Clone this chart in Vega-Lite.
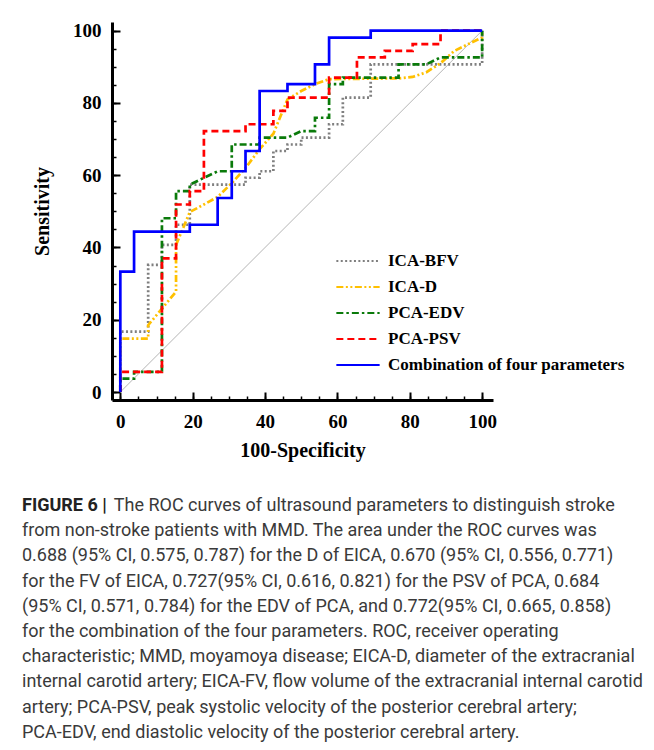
{
  "$schema": "https://vega.github.io/schema/vega-lite/v6.json",
  "width": 381,
  "height": 378,
  "autosize": {"type": "none"},
  "padding": {"left": 112, "top": 22, "right": 161, "bottom": 350},
  "background": "white",
  "config": {
    "view": {"stroke": null},
    "axis": {"grid": false}
  },
  "title": {
    "text": "FIGURE 6 |",
    "subtitle": [
      "\u200b\u2002\u2002\u2002\u2002\u2002\u2002\u2002\u2002\u2002\u2002The ROC curves of ultrasound parameters to distinguish stroke",
      "from non-stroke patients with MMD. The area under the ROC curves was",
      "0.688 (95% CI, 0.575, 0.787) for the D of EICA, 0.670 (95% CI, 0.556, 0.771)",
      "for the FV of EICA, 0.727(95% CI, 0.616, 0.821) for the PSV of PCA, 0.684",
      "(95% CI, 0.571, 0.784) for the EDV of PCA, and 0.772(95% CI, 0.665, 0.858)",
      "for the combination of the four parameters. ROC, receiver operating",
      "characteristic; MMD, moyamoya disease; EICA-D, diameter of the extracranial",
      "internal carotid artery; EICA-FV, flow volume of the extracranial internal carotid",
      "artery; PCA-PSV, peak systolic velocity of the posterior cerebral artery;",
      "PCA-EDV, end diastolic velocity of the posterior cerebral artery."
    ],
    "orient": "bottom",
    "anchor": "start",
    "frame": "group",
    "dx": -90,
    "offset": 37,
    "font": "Roboto",
    "fontSize": 18,
    "fontWeight": "bold",
    "color": "#222222",
    "subtitleFont": "Roboto",
    "subtitleFontSize": 18,
    "subtitleColor": "#3a3a3a",
    "subtitleLineHeight": 25.2,
    "subtitlePadding": -18
  },
  "datasets": {
    "diag": [{"x": 0, "y": 0}, {"x": 100, "y": 100}],
    "roc": [
      {"s": "ICA-BFV", "i": 1, "x": 0, "y": 0},
      {"s": "ICA-BFV", "i": 2, "x": 0, "y": 16.7},
      {"s": "ICA-BFV", "i": 3, "x": 7.7, "y": 16.7},
      {"s": "ICA-BFV", "i": 4, "x": 7.7, "y": 35.2},
      {"s": "ICA-BFV", "i": 5, "x": 11.5, "y": 35.2},
      {"s": "ICA-BFV", "i": 6, "x": 11.5, "y": 40.7},
      {"s": "ICA-BFV", "i": 7, "x": 15.4, "y": 40.7},
      {"s": "ICA-BFV", "i": 8, "x": 15.4, "y": 46.3},
      {"s": "ICA-BFV", "i": 9, "x": 19.2, "y": 46.3},
      {"s": "ICA-BFV", "i": 10, "x": 19.2, "y": 57.4},
      {"s": "ICA-BFV", "i": 11, "x": 34.6, "y": 57.4},
      {"s": "ICA-BFV", "i": 12, "x": 34.6, "y": 59.3},
      {"s": "ICA-BFV", "i": 13, "x": 38.5, "y": 59.3},
      {"s": "ICA-BFV", "i": 14, "x": 38.5, "y": 61.1},
      {"s": "ICA-BFV", "i": 15, "x": 42.3, "y": 61.1},
      {"s": "ICA-BFV", "i": 16, "x": 42.3, "y": 66.7},
      {"s": "ICA-BFV", "i": 17, "x": 46.2, "y": 66.7},
      {"s": "ICA-BFV", "i": 18, "x": 46.2, "y": 68.5},
      {"s": "ICA-BFV", "i": 19, "x": 50.0, "y": 68.5},
      {"s": "ICA-BFV", "i": 20, "x": 50.0, "y": 70.4},
      {"s": "ICA-BFV", "i": 21, "x": 57.7, "y": 70.4},
      {"s": "ICA-BFV", "i": 22, "x": 57.7, "y": 74.1},
      {"s": "ICA-BFV", "i": 23, "x": 61.5, "y": 74.1},
      {"s": "ICA-BFV", "i": 24, "x": 61.5, "y": 81.5},
      {"s": "ICA-BFV", "i": 25, "x": 69.2, "y": 81.5},
      {"s": "ICA-BFV", "i": 26, "x": 69.2, "y": 90.7},
      {"s": "ICA-BFV", "i": 27, "x": 100, "y": 90.7},
      {"s": "ICA-BFV", "i": 28, "x": 100, "y": 100},
      {"s": "ICA-D", "i": 1, "x": 0, "y": 0},
      {"s": "ICA-D", "i": 2, "x": 0, "y": 14.8},
      {"s": "ICA-D", "i": 3, "x": 7.7, "y": 14.8},
      {"s": "ICA-D", "i": 4, "x": 7.7, "y": 18.5},
      {"s": "ICA-D", "i": 5, "x": 15.4, "y": 27.8},
      {"s": "ICA-D", "i": 6, "x": 15.4, "y": 40.7},
      {"s": "ICA-D", "i": 7, "x": 19.2, "y": 49.8},
      {"s": "ICA-D", "i": 8, "x": 23.1, "y": 51.9},
      {"s": "ICA-D", "i": 9, "x": 26.9, "y": 54.0},
      {"s": "ICA-D", "i": 10, "x": 30.8, "y": 57.8},
      {"s": "ICA-D", "i": 11, "x": 34.6, "y": 62.0},
      {"s": "ICA-D", "i": 12, "x": 38.5, "y": 67.2},
      {"s": "ICA-D", "i": 13, "x": 42.3, "y": 71.5},
      {"s": "ICA-D", "i": 14, "x": 46.2, "y": 81.0},
      {"s": "ICA-D", "i": 15, "x": 50.0, "y": 83.3},
      {"s": "ICA-D", "i": 16, "x": 53.8, "y": 85.2},
      {"s": "ICA-D", "i": 17, "x": 57.7, "y": 86.6},
      {"s": "ICA-D", "i": 18, "x": 76.9, "y": 86.8},
      {"s": "ICA-D", "i": 19, "x": 80.8, "y": 87.2},
      {"s": "ICA-D", "i": 20, "x": 84.6, "y": 88.5},
      {"s": "ICA-D", "i": 21, "x": 88.5, "y": 91.0},
      {"s": "ICA-D", "i": 22, "x": 92.3, "y": 94.4},
      {"s": "ICA-D", "i": 23, "x": 96.2, "y": 96.3},
      {"s": "ICA-D", "i": 24, "x": 100, "y": 98.1},
      {"s": "ICA-D", "i": 25, "x": 100, "y": 100},
      {"s": "PCA-EDV", "i": 1, "x": 0, "y": 0},
      {"s": "PCA-EDV", "i": 2, "x": 0, "y": 3.7},
      {"s": "PCA-EDV", "i": 3, "x": 3.8, "y": 3.7},
      {"s": "PCA-EDV", "i": 4, "x": 3.8, "y": 5.6},
      {"s": "PCA-EDV", "i": 5, "x": 11.5, "y": 5.6},
      {"s": "PCA-EDV", "i": 6, "x": 11.5, "y": 48.1},
      {"s": "PCA-EDV", "i": 7, "x": 15.4, "y": 48.1},
      {"s": "PCA-EDV", "i": 8, "x": 15.4, "y": 55.6},
      {"s": "PCA-EDV", "i": 9, "x": 19.2, "y": 55.6},
      {"s": "PCA-EDV", "i": 10, "x": 19.2, "y": 57.4},
      {"s": "PCA-EDV", "i": 11, "x": 26.9, "y": 61.1},
      {"s": "PCA-EDV", "i": 12, "x": 30.8, "y": 61.1},
      {"s": "PCA-EDV", "i": 13, "x": 30.8, "y": 68.5},
      {"s": "PCA-EDV", "i": 14, "x": 38.5, "y": 68.5},
      {"s": "PCA-EDV", "i": 15, "x": 38.5, "y": 70.4},
      {"s": "PCA-EDV", "i": 16, "x": 46.2, "y": 70.4},
      {"s": "PCA-EDV", "i": 17, "x": 50.0, "y": 72.2},
      {"s": "PCA-EDV", "i": 18, "x": 53.8, "y": 72.2},
      {"s": "PCA-EDV", "i": 19, "x": 53.8, "y": 75.9},
      {"s": "PCA-EDV", "i": 20, "x": 57.7, "y": 75.9},
      {"s": "PCA-EDV", "i": 21, "x": 57.7, "y": 85.2},
      {"s": "PCA-EDV", "i": 22, "x": 61.5, "y": 85.2},
      {"s": "PCA-EDV", "i": 23, "x": 61.5, "y": 87.0},
      {"s": "PCA-EDV", "i": 24, "x": 76.9, "y": 87.0},
      {"s": "PCA-EDV", "i": 25, "x": 76.9, "y": 90.7},
      {"s": "PCA-EDV", "i": 26, "x": 84.6, "y": 90.7},
      {"s": "PCA-EDV", "i": 27, "x": 88.5, "y": 92.6},
      {"s": "PCA-EDV", "i": 28, "x": 100, "y": 92.6},
      {"s": "PCA-EDV", "i": 29, "x": 100, "y": 100},
      {"s": "PCA-PSV", "i": 1, "x": 0, "y": 0},
      {"s": "PCA-PSV", "i": 2, "x": 0, "y": 5.6},
      {"s": "PCA-PSV", "i": 3, "x": 11.5, "y": 5.6},
      {"s": "PCA-PSV", "i": 4, "x": 11.5, "y": 37.0},
      {"s": "PCA-PSV", "i": 5, "x": 15.4, "y": 37.0},
      {"s": "PCA-PSV", "i": 6, "x": 15.4, "y": 51.9},
      {"s": "PCA-PSV", "i": 7, "x": 19.2, "y": 51.9},
      {"s": "PCA-PSV", "i": 8, "x": 19.2, "y": 55.6},
      {"s": "PCA-PSV", "i": 9, "x": 23.1, "y": 55.6},
      {"s": "PCA-PSV", "i": 10, "x": 23.1, "y": 72.2},
      {"s": "PCA-PSV", "i": 11, "x": 34.6, "y": 72.2},
      {"s": "PCA-PSV", "i": 12, "x": 34.6, "y": 74.1},
      {"s": "PCA-PSV", "i": 13, "x": 42.3, "y": 74.1},
      {"s": "PCA-PSV", "i": 14, "x": 42.3, "y": 77.8},
      {"s": "PCA-PSV", "i": 15, "x": 46.2, "y": 77.8},
      {"s": "PCA-PSV", "i": 16, "x": 46.2, "y": 81.5},
      {"s": "PCA-PSV", "i": 17, "x": 57.7, "y": 81.5},
      {"s": "PCA-PSV", "i": 18, "x": 57.7, "y": 87.0},
      {"s": "PCA-PSV", "i": 19, "x": 65.4, "y": 87.0},
      {"s": "PCA-PSV", "i": 20, "x": 65.4, "y": 92.6},
      {"s": "PCA-PSV", "i": 21, "x": 73.1, "y": 92.6},
      {"s": "PCA-PSV", "i": 22, "x": 73.1, "y": 94.4},
      {"s": "PCA-PSV", "i": 23, "x": 80.8, "y": 94.4},
      {"s": "PCA-PSV", "i": 24, "x": 80.8, "y": 96.3},
      {"s": "PCA-PSV", "i": 25, "x": 88.5, "y": 96.3},
      {"s": "PCA-PSV", "i": 26, "x": 88.5, "y": 100},
      {"s": "PCA-PSV", "i": 27, "x": 100, "y": 100},
      {"s": "Combination of four parameters", "i": 1, "x": 0, "y": 0},
      {"s": "Combination of four parameters", "i": 2, "x": 0, "y": 33.3},
      {"s": "Combination of four parameters", "i": 3, "x": 3.8, "y": 33.3},
      {"s": "Combination of four parameters", "i": 4, "x": 3.8, "y": 44.4},
      {"s": "Combination of four parameters", "i": 5, "x": 19.2, "y": 44.4},
      {"s": "Combination of four parameters", "i": 6, "x": 19.2, "y": 46.3},
      {"s": "Combination of four parameters", "i": 7, "x": 26.9, "y": 46.3},
      {"s": "Combination of four parameters", "i": 8, "x": 26.9, "y": 53.7},
      {"s": "Combination of four parameters", "i": 9, "x": 30.8, "y": 53.7},
      {"s": "Combination of four parameters", "i": 10, "x": 30.8, "y": 61.1},
      {"s": "Combination of four parameters", "i": 11, "x": 34.6, "y": 61.1},
      {"s": "Combination of four parameters", "i": 12, "x": 34.6, "y": 66.7},
      {"s": "Combination of four parameters", "i": 13, "x": 38.5, "y": 66.7},
      {"s": "Combination of four parameters", "i": 14, "x": 38.5, "y": 83.3},
      {"s": "Combination of four parameters", "i": 15, "x": 46.2, "y": 83.3},
      {"s": "Combination of four parameters", "i": 16, "x": 46.2, "y": 85.2},
      {"s": "Combination of four parameters", "i": 17, "x": 53.8, "y": 85.2},
      {"s": "Combination of four parameters", "i": 18, "x": 53.8, "y": 90.7},
      {"s": "Combination of four parameters", "i": 19, "x": 57.7, "y": 90.7},
      {"s": "Combination of four parameters", "i": 20, "x": 57.7, "y": 98.1},
      {"s": "Combination of four parameters", "i": 21, "x": 69.2, "y": 98.1},
      {"s": "Combination of four parameters", "i": 22, "x": 69.2, "y": 100},
      {"s": "Combination of four parameters", "i": 23, "x": 100, "y": 100}
    ]
  },
  "layer": [
    {
      "data": {"name": "diag"},
      "mark": {"type": "line", "color": "#b5b5b5", "strokeWidth": 1},
      "encoding": {
        "x": {
          "field": "x", "type": "quantitative",
          "scale": {"domain": [-2.3, 103], "nice": false, "zero": false},
          "axis": {
            "orient": "bottom", "values": [0,5,10,15,20,25,30,35,40,45,50,55,60,65,70,75,80,85,90,95,100],
            "tickSize": -4, "tickWidth": 1.5, "tickColor": "black",
            "labels": false, "domain": false, "title": null, "grid": false
          }
        },
        "y": {
          "field": "y", "type": "quantitative",
          "scale": {"domain": [-2.2, 102.4], "nice": false, "zero": false},
          "axis": {
            "orient": "left", "values": [0,5,10,15,20,25,30,35,40,45,50,55,60,65,70,75,80,85,90,95,100],
            "tickSize": -4, "tickWidth": 1.5, "tickColor": "black",
            "labels": false, "domain": false, "title": null, "grid": false
          }
        }
      }
    },
    {
      "data": {"name": "roc"},
      "mark": {"type": "line", "strokeWidth": 2.7},
      "encoding": {
        "x": {
          "field": "x", "type": "quantitative",
          "scale": {"domain": [-2.3, 103], "nice": false, "zero": false},
          "axis": {
            "orient": "bottom", "values": [0, 20, 40, 60, 80, 100],
            "tickSize": -8, "tickWidth": 2, "tickColor": "black",
            "domainColor": "black", "domainWidth": 3,
            "labelFont": "Liberation Serif", "labelFontWeight": "bold", "labelFontSize": 19,
            "labelColor": "black", "labelPadding": 20, "labelFlush": false,
            "title": "100-Specificity", "titleFont": "Liberation Serif", "titleFontWeight": "bold",
            "titleFontSize": 20, "titleColor": "black", "titlePadding": 9, "grid": false
          }
        },
        "y": {
          "field": "y", "type": "quantitative",
          "scale": {"domain": [-2.2, 102.4], "nice": false, "zero": false},
          "axis": {
            "orient": "left", "values": [0, 20, 40, 60, 80, 100],
            "tickSize": -8, "tickWidth": 2, "tickColor": "black",
            "domainColor": "black", "domainWidth": 3,
            "labelFont": "Liberation Serif", "labelFontWeight": "bold", "labelFontSize": 19,
            "labelColor": "black", "labelPadding": 19, "labelFlush": false,
            "title": "Sensitivity", "titleFont": "Liberation Serif", "titleFontWeight": "bold",
            "titleFontSize": 20, "titleColor": "black", "titlePadding": 20, "grid": false
          }
        },
        "order": {"field": "i", "type": "quantitative"},
        "color": {
          "field": "s", "type": "nominal",
          "scale": {
            "domain": ["ICA-BFV", "ICA-D", "PCA-EDV", "PCA-PSV", "Combination of four parameters"],
            "range": ["#7f7f7f", "#ffc000", "#0a7a0a", "#ff0000", "#0000ff"]
          },
          "legend": {
            "orient": "none", "legendX": 236, "legendY": 229, "title": null, "padding": 0,
            "labelFont": "Liberation Serif", "labelFontWeight": "bold", "labelFontSize": 17,
            "labelColor": "black", "labelLimit": 400, "symbolType": "M-2.5,0H2.5", "symbolSize": 300,
            "symbolStrokeWidth": 2, "rowPadding": 8, "labelOffset": 20
          }
        },
        "strokeDash": {
          "field": "s", "type": "nominal",
          "scale": {
            "domain": ["ICA-BFV", "ICA-D", "PCA-EDV", "PCA-PSV", "Combination of four parameters"],
            "range": [[2, 2.4], [7, 2.5, 2, 2.5, 2, 2.5], [7, 3, 2.5, 3], [7, 4], [1, 0]]
          },
          "legend": {
            "orient": "none", "legendX": 236, "legendY": 229, "title": null, "padding": 0,
            "labelFont": "Liberation Serif", "labelFontWeight": "bold", "labelFontSize": 17,
            "labelColor": "black", "labelLimit": 400, "symbolType": "M-2.5,0H2.5", "symbolSize": 300,
            "symbolStrokeWidth": 2, "rowPadding": 8, "labelOffset": 20
          }
        }
      }
    }
  ],
  "resolve": {
    "scale": {"x": "independent", "y": "independent"},
    "axis": {"x": "independent", "y": "independent"}
  }
}
